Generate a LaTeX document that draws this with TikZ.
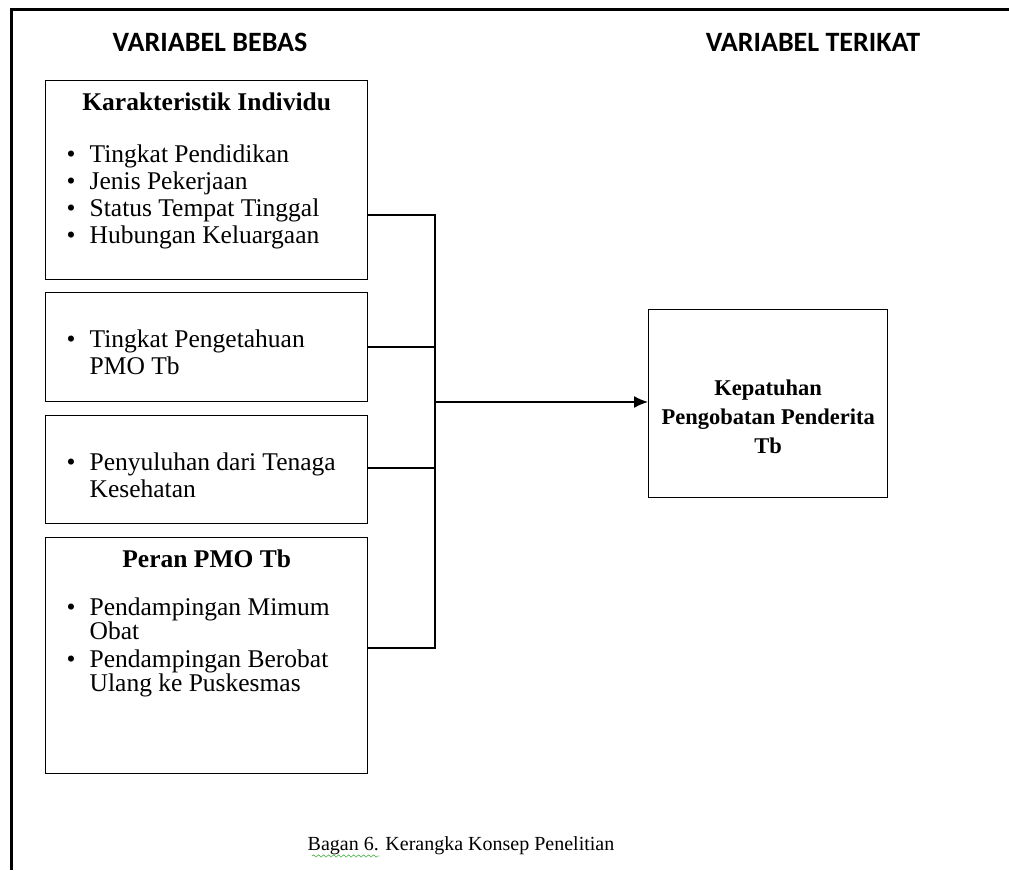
\documentclass[tikz,border=0pt]{standalone}
\usepackage{fontspec}
\setmainfont{Liberation Serif}
\newfontfamily\headfont{Carlito}
\usetikzlibrary{arrows.meta,decorations.pathmorphing}

% bullet line with hanging indent
\newcommand{\itm}[1]{\par\hangindent=44pt\hangafter=1\noindent\hspace*{21pt}\makebox[23pt][l]{\textbullet}#1}

\begin{document}
\begin{tikzpicture}[x=1pt, y=-1pt,
  box/.style={rectangle, draw, line width=1.4pt, inner sep=0pt, anchor=north west},
  wire/.style={line width=1.4pt},
  head/.style={font=\headfont\bfseries\fontsize{28}{30}\selectfont},
  body/.style={font=\fontsize{25.5}{27}\selectfont}
]
\useasboundingbox (0,0) rectangle (1009,870);

% Frame
\draw[line width=3pt] (11,870) -- (11,9) -- (1009,9);

% Headings
\node[head] (hbebas) at (210,42) {VARIABEL BEBAS};
\node[head] (hterikat) at (813,42) {VARIABEL TERIKAT};

% Independent variables
\node[box, body] (b1) at (45,80) {\parbox[c][199pt][t]{322pt}{\vspace*{12pt}\centering\textbf{Karakteristik Individu}\par\raggedright\vspace{25pt}
  \itm{Tingkat Pendidikan}
  \itm{Jenis Pekerjaan}
  \itm{Status Tempat Tinggal}
  \itm{Hubungan Keluargaan}}};
\node[box, body] (b2) at (45,292) {\parbox[c][109pt][t]{322pt}{\vspace*{37pt}\raggedright
  \itm{Tingkat Pengetahuan\newline PMO Tb}}};
\node[box, body] (b3) at (45,415) {\parbox[c][108pt][t]{322pt}{\vspace*{37pt}\raggedright
  \itm{Penyuluhan dari Tenaga\newline Kesehatan}}};
\node[box, body] (b4) at (45,537) {\parbox[c][236pt][t]{322pt}{\fontsize{25.5}{24}\selectfont\vspace*{12pt}\centering\textbf{Peran PMO Tb}\par\raggedright\vspace{24pt}
  \itm{Pendampingan Mimum\newline Obat}\par\vspace{4pt}
  \itm{Pendampingan Berobat\newline Ulang ke Puskesmas}}};

% Dependent variable
\node[box, font=\bfseries\fontsize{22.5}{29}\selectfont] (dep) at (648,309) {\parbox[c][188pt][t]{239pt}{\vspace*{70pt}\centering Kepatuhan\\ Pengobatan Penderita\\ Tb}};

% Connectors
\coordinate (j1) at (435,215);
\coordinate (j2) at (435,347);
\coordinate (j3) at (435,468);
\coordinate (jm) at (435,402);
\coordinate (j4) at (435,648);
\draw[wire] (b1.east |- j1) -- (j1) -- (j4) -- (b4.east |- j4);
\draw[wire] (b2.east |- j2) -- (j2);
\draw[wire] (b3.east |- j3) -- (j3);
\draw[wire, -{Latex[length=14pt,width=12pt]}] (jm) -- (dep.west |- jm);

% Caption
\node[anchor=base, font=\fontsize{20}{24}\selectfont] (cap) at (461,850) {Bagan 6. Kerangka Konsep Penelitian};
\coordinate (sq1) at (312,856);
\coordinate (sq2) at (380,856);
\draw[green!60!black, decorate, decoration={snake, amplitude=1.2pt, segment length=5pt}] (sq1) -- (sq2);

\end{tikzpicture}
\end{document}
